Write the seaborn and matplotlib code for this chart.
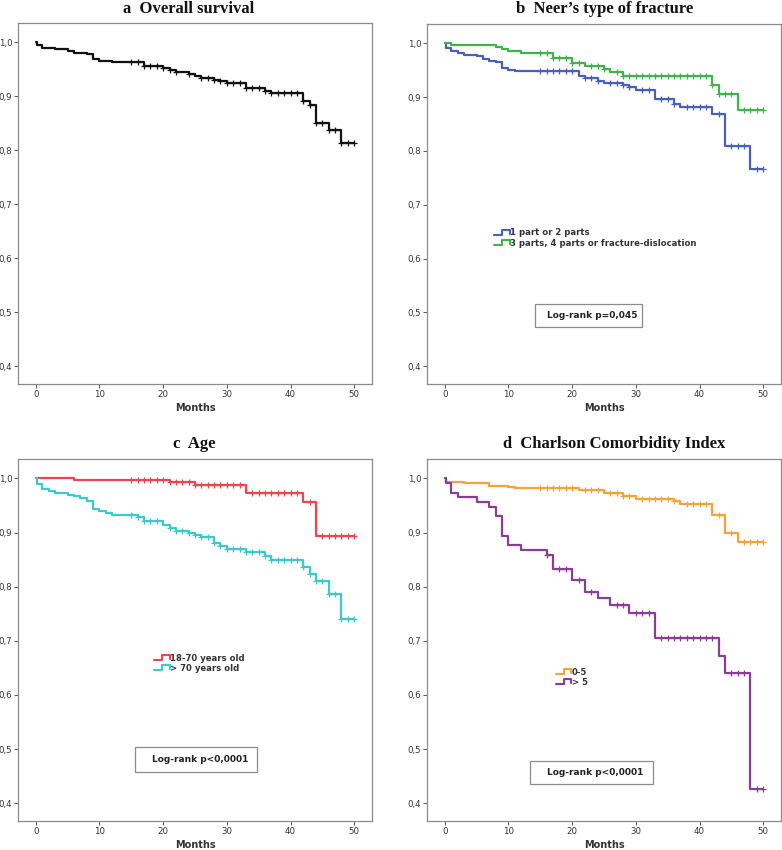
import numpy as np
import pandas as pd
import matplotlib
matplotlib.use("Agg")
import matplotlib.pyplot as plt
import seaborn as sns
from matplotlib.legend_handler import HandlerBase
from matplotlib.lines import Line2D
from matplotlib.patches import Rectangle

sns.set_style("white")
plt.rcParams['font.family'] = ['DejaVu Sans']

# ---------------- data ----------------
x_ticks = [0, 10, 20, 30, 40, 50]
y_ticks = [0.4, 0.5, 0.6, 0.7, 0.8, 0.9, 1.0]
y_tick_labels = ["0,4", "0,5", "0,6", "0,7", "0,8", "0,9", "1,0"]

titles = ["a  Overall survival", "b  Neer\u2019s type of fracture", "c  Age", "d  Charlson Comorbidity Index"]
x_label = "Months"

# Panel a: overall survival
a_t = [0, 0.2, 1, 3, 5, 6, 8, 9, 10, 12, 17, 20, 21, 22, 24, 25, 26, 28, 29, 30, 33, 36, 37, 42, 43, 44, 46, 48, 50]
a_s = [1.0, 0.995, 0.99, 0.987, 0.985, 0.981, 0.978, 0.969, 0.966, 0.963, 0.957, 0.953, 0.948, 0.945, 0.942,
       0.938, 0.935, 0.931, 0.928, 0.925, 0.915, 0.910, 0.906, 0.892, 0.884, 0.850, 0.838, 0.813, 0.813]
a_c = [15, 16, 17, 18, 19, 20, 21, 22, 24, 26, 27, 28, 29, 30, 31, 32, 33, 34, 35, 36, 37, 38, 39, 40, 41, 42, 43,
       44, 45, 46, 47, 48, 49, 50]

# Panel b: Neer's type
b_labels = ["1 part or 2 parts", "3 parts, 4 parts or fracture-dislocation"]
b1_t = [0, 0.2, 1, 2, 3, 5, 6, 7, 8, 9, 10, 11, 21, 22, 24, 25, 28, 29, 30, 33, 36, 37, 42, 44, 48, 50]
b1_s = [1.0, 0.991, 0.985, 0.982, 0.979, 0.976, 0.971, 0.968, 0.965, 0.955, 0.951, 0.948, 0.939, 0.935, 0.931,
        0.927, 0.922, 0.918, 0.914, 0.896, 0.888, 0.881, 0.868, 0.810, 0.767, 0.767]
b1_c = [15, 16, 17, 18, 19, 20, 22, 23, 24, 26, 27, 28, 29, 31, 32, 34, 35, 36, 38, 39, 40, 41, 43, 45, 46, 47,
        49, 50]
b2_t = [0, 1, 8, 9, 10, 12, 17, 20, 22, 25, 26, 28, 42, 43, 46, 50]
b2_s = [1.0, 0.997, 0.994, 0.990, 0.986, 0.982, 0.972, 0.963, 0.958, 0.953, 0.946, 0.940, 0.923, 0.905, 0.876,
        0.876]
b2_c = [15, 16, 17, 18, 19, 20, 21, 23, 24, 25, 27, 28, 29, 30, 31, 32, 33, 34, 35, 36, 37, 38, 39, 40, 41, 42,
        43, 44, 45, 47, 48, 49, 50]

# Panel c: age
c_labels = ["18-70 years old", "> 70 years old"]
c1_t = [0, 6, 21, 25, 33, 42, 44, 50]
c1_s = [1.0, 0.997, 0.993, 0.988, 0.973, 0.956, 0.894, 0.894]
c1_c = [15, 16, 17, 18, 19, 20, 21, 22, 23, 24, 25, 26, 27, 28, 29, 30, 31, 32, 34, 35, 36, 37, 38, 39, 40, 41,
        43, 45, 46, 47, 48, 49, 50]
c2_t = [0, 0.2, 1, 2, 3, 5, 6, 7, 8, 9, 10, 11, 12, 16, 17, 20, 21, 22, 24, 25, 26, 28, 29, 30, 33, 36, 37, 42,
        43, 44, 46, 48, 50]
c2_s = [1.0, 0.990, 0.980, 0.977, 0.974, 0.970, 0.967, 0.964, 0.959, 0.944, 0.939, 0.936, 0.933, 0.929, 0.921,
        0.914, 0.909, 0.903, 0.899, 0.895, 0.891, 0.881, 0.875, 0.870, 0.864, 0.857, 0.849, 0.836, 0.823, 0.810,
        0.787, 0.740, 0.740]
c2_c = [15, 16, 17, 18, 19, 21, 22, 23, 24, 25, 26, 27, 28, 29, 30, 31, 32, 33, 34, 35, 36, 37, 38, 39, 40, 41,
        42, 43, 44, 45, 46, 47, 48, 49, 50]

# Panel d: Charlson index
d_labels = ["0-5", "> 5"]
d1_t = [0, 0.2, 3, 7, 10, 11, 21, 25, 28, 30, 36, 37, 42, 44, 46, 50]
d1_s = [1.0, 0.994, 0.991, 0.987, 0.985, 0.983, 0.978, 0.973, 0.967, 0.963, 0.958, 0.952, 0.933, 0.899, 0.882,
        0.882]
d1_c = [15, 16, 17, 18, 19, 20, 22, 23, 24, 26, 27, 28, 29, 31, 32, 33, 34, 35, 36, 38, 39, 40, 41, 43, 45, 47,
        48, 49, 50]
d2_t = [0, 0.2, 1, 2, 5, 7, 8, 9, 10, 12, 16, 17, 20, 22, 24, 26, 29, 33, 43, 44, 48, 50]
d2_s = [1.0, 0.991, 0.974, 0.965, 0.956, 0.947, 0.930, 0.894, 0.877, 0.868, 0.859, 0.832, 0.812, 0.791, 0.780,
        0.766, 0.752, 0.705, 0.672, 0.641, 0.427, 0.427]
d2_c = [16, 18, 19, 21, 23, 27, 28, 30, 31, 32, 34, 35, 36, 37, 38, 39, 40, 41, 42, 45, 46, 47, 49, 50]

logrank = [None, "Log-rank p=0,045", "Log-rank p<0,0001", "Log-rank p<0,0001"]

panels = [
    [("Overall", a_t, a_s, a_c, "#111111")],
    [(b_labels[0], b1_t, b1_s, b1_c, "#4a5fb8"), (b_labels[1], b2_t, b2_s, b2_c, "#3db34a")],
    [(c_labels[0], c1_t, c1_s, c1_c, "#e8474f"), (c_labels[1], c2_t, c2_s, c2_c, "#3cc8cc")],
    [(d_labels[0], d1_t, d1_s, d1_c, "#f5a23a"), (d_labels[1], d2_t, d2_s, d2_c, "#8a3d95")],
]

# ---------------- layout ----------------
W, H = 782, 850
fig = plt.figure(figsize=(W / 100, H / 100), dpi=100)

def px_axes(x0, y0, x1, y1):
    return fig.add_axes([x0 / W, 1 - y1 / H, (x1 - x0) / W, (y1 - y0) / H])

axes = [px_axes(18, 23, 372, 384), px_axes(427, 24, 781, 384),
        px_axes(18, 459, 372, 821), px_axes(427, 459, 781, 821)]

title_base_y = [13, 13, 448, 448]
title_x = [189, 605, 194, 614]

# legend anchor (axes fraction, upper-left) and log-rank box (axes frac x0, y0, x1, y1, text x, text y)
legend_anchor = [None, (0.19, 0.432), (0.385, 0.462), (0.365, 0.424)]
box_geom = [None, (0.305, 0.158, 0.607, 0.222, 0.339, 0.190),
            (0.331, 0.135, 0.675, 0.204, 0.378, 0.170),
            (0.291, 0.102, 0.638, 0.166, 0.339, 0.134)]


class StepHandler(HandlerBase):
    def create_artists(self, legend, orig_handle, xdescent, ydescent, width, height, fontsize, trans):
        x0 = -xdescent
        w = width
        h = height
        xs = [x0, x0 + 0.5 * w, x0 + 0.5 * w, x0 + w, x0 + w]
        ys = [0.1 * h, 0.1 * h, 0.9 * h, 0.9 * h, 0.25 * h]
        ln = Line2D(xs, ys, color=orig_handle.get_color(), lw=1.5, transform=trans)
        return [ln]


def surv_at(t_arr, s_arr, t):
    idx = np.searchsorted(np.asarray(t_arr), t, side="right") - 1
    return np.asarray(s_arr)[idx]


for i, ax in enumerate(axes):
    handles = []
    for (label, t, s, c, col) in panels[i]:
        df = pd.DataFrame({"t": t, "s": s})
        sns.lineplot(data=df, x="t", y="s", ax=ax, color=col, lw=1.6,
                     drawstyle="steps-post", estimator=None, sort=False, legend=False)
        cdf = pd.DataFrame({"t": c, "s": surv_at(t, s, np.asarray(c, dtype=float))})
        sns.scatterplot(data=cdf, x="t", y="s", ax=ax, color=col, marker="+", s=18,
                        linewidth=0.9, legend=False, zorder=3)
        handles.append(Line2D([], [], color=col, label=label))

    ax.set_xlim(-2.8, 52.8)
    ax.set_ylim(0.367, 1.036)
    ax.set_xticks(x_ticks)
    ax.set_xticklabels([str(v) for v in x_ticks])
    ax.set_yticks(y_ticks)
    ax.set_yticklabels(y_tick_labels)
    ax.tick_params(axis="both", which="both", direction="out", length=3, width=0.7,
                   colors="#555555", labelsize=6.2, labelcolor="#333333", pad=1.2,
                   bottom=True, left=True)
    for sp in ax.spines.values():
        sp.set_color("#8a8a8a")
        sp.set_linewidth(0.9)
    ax.set_xlabel(x_label, fontsize=7, fontweight="bold", color="#333333", labelpad=3)
    ax.set_ylabel("")

    fig.text(title_x[i] / W, 1 - title_base_y[i] / H, titles[i], ha="center", va="baseline",
             fontsize=12, fontweight="bold", family="Liberation Serif", color="#111111")

    if legend_anchor[i] is not None:
        leg = ax.legend(handles=handles, loc="upper left", bbox_to_anchor=legend_anchor[i],
                        frameon=False, fontsize=6.1, handlelength=1.8, handleheight=0.8,
                        handletextpad=0.05, labelspacing=0.15, borderpad=0, borderaxespad=0,
                        handler_map={Line2D: StepHandler()})
        for txt in leg.get_texts():
            txt.set_fontweight("bold")
            txt.set_color("#333333")

    if box_geom[i] is not None:
        x0, y0, x1, y1, tx, ty = box_geom[i]
        ax.add_patch(Rectangle((x0, y0), x1 - x0, y1 - y0, transform=ax.transAxes,
                               facecolor="white", edgecolor="#8a8a8a", lw=0.9, zorder=4))
        ax.text(tx, ty, logrank[i], transform=ax.transAxes, ha="left", va="center",
                fontsize=6.5, fontweight="bold", color="#222222", zorder=5)

fig.savefig("out.png", dpi=100)
